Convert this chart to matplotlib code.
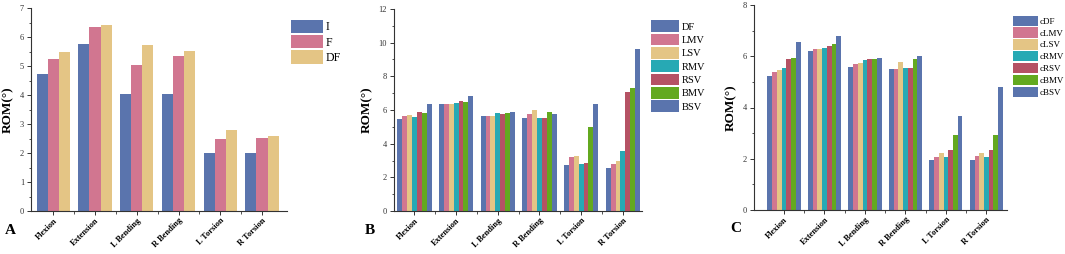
import numpy as np
import matplotlib
matplotlib.use("Agg")
import matplotlib.pyplot as plt
from matplotlib.ticker import MultipleLocator, FixedLocator

plt.rcParams["font.family"] = ["Liberation Serif", "DejaVu Serif"]

# ------------------------------
# data
# ------------------------------
motions = ["Flexion", "Extension", "L Bending", "R Bending", "L Torsion", "R Torsion"]

# panel A
a_names = ["I", "F", "DF"]
a_I = [4.73, 5.75, 4.05, 4.05, 2.00, 2.00]
a_F = [5.25, 6.33, 5.02, 5.35, 2.47, 2.52]
a_DF = [5.47, 6.40, 5.73, 5.52, 2.80, 2.57]

# panel B
b_names = ["DF", "LMV", "LSV", "RMV", "RSV", "BMV", "BSV"]
b_DF = [5.44, 6.35, 5.65, 5.50, 2.75, 2.57]
b_LMV = [5.65, 6.35, 5.65, 5.79, 3.18, 2.77]
b_LSV = [5.73, 6.37, 5.63, 5.99, 3.26, 2.95]
b_RMV = [5.61, 6.41, 5.85, 5.54, 2.81, 3.58]
b_RSV = [5.91, 6.56, 5.75, 5.50, 2.87, 7.04]
b_BMV = [5.83, 6.47, 5.81, 5.89, 4.98, 7.33]
b_BSV = [6.37, 6.82, 5.89, 5.77, 6.33, 9.63]

# panel C
c_names = ["cDF", "cLMV", "cLSV", "cRMV", "cRSV", "cBMV", "cBSV"]
c_DF = [5.21, 6.20, 5.59, 5.49, 1.94, 1.95]
c_LMV = [5.40, 6.28, 5.71, 5.50, 2.08, 2.09]
c_LSV = [5.46, 6.29, 5.72, 5.76, 2.22, 2.22]
c_RMV = [5.54, 6.31, 5.85, 5.53, 2.05, 2.05]
c_RSV = [5.88, 6.40, 5.90, 5.55, 2.35, 2.35]
c_BMV = [5.92, 6.46, 5.89, 5.89, 2.93, 2.94]
c_BSV = [6.57, 6.80, 5.93, 6.00, 3.67, 4.79]

# ------------------------------
# style
# ------------------------------
blue = "#5a74ad"
pink = "#d17690"
tan = "#e4c585"
teal = "#27a9b4"
red = "#b55264"
green = "#63a91f"
colors7 = [blue, pink, tan, teal, red, green, blue]
colors3 = [blue, pink, tan]

fig = plt.figure(figsize=(10.65, 2.54), dpi=100)


def panel(rect, series, names, colors, ymax, ystep, xlim, group_w,
          leg_anchor, leg_size, leg_hl, leg_ls, label, label_xy):
    ax = fig.add_axes(rect)
    x = np.arange(len(motions))
    n = len(series)
    w = group_w / n
    for i, (vals, name, col) in enumerate(zip(series, names, colors)):
        ax.bar(x - group_w / 2 + w * (i + 0.5), vals, width=w, color=col,
               label=name, edgecolor="none")
    ax.set_xlim(*xlim)
    ax.set_ylim(0, ymax)
    ax.yaxis.set_major_locator(MultipleLocator(ystep))
    ax.yaxis.set_minor_locator(MultipleLocator(ystep / 2))
    ax.xaxis.set_major_locator(FixedLocator(x))
    ax.xaxis.set_minor_locator(FixedLocator(x[:-1] + 0.5))
    ax.set_xticklabels(motions, rotation=45, ha="right", rotation_mode="anchor",
                       fontsize=6, fontweight="bold")
    for s in ["top", "right"]:
        ax.spines[s].set_visible(False)
    for s in ["left", "bottom"]:
        ax.spines[s].set_color("#333333")
        ax.spines[s].set_linewidth(0.8)
    ax.tick_params(which="major", direction="out", length=3, width=0.7,
                   colors="#333333", labelsize=6, pad=2)
    ax.tick_params(which="minor", direction="out", length=1.8, width=0.6,
                   colors="#333333")
    ax.tick_params(axis="x", labelcolor="black", pad=1)
    ax.set_ylabel("ROM(°)", fontsize=9.5, fontweight="bold", labelpad=4)
    ax.legend(loc="upper left", bbox_to_anchor=leg_anchor,
              bbox_transform=fig.transFigure, frameon=False,
              fontsize=leg_size, handlelength=leg_hl, handleheight=1.35,
              handletextpad=0.25, labelspacing=leg_ls, borderpad=0)
    fig.text(label_xy[0], label_xy[1], label, fontsize=11, fontweight="bold",
             ha="left", va="center")
    return ax


panel([31 / 1065, 1 - 211 / 254, 256 / 1065, 203 / 254],
      [a_I, a_F, a_DF], a_names, colors3, 7, 1, (-0.535, 5.6), 0.8,
      (285 / 1065, 1 - 14 / 254), 8.5, 2.7, 0.14, "A", (5 / 1065, 1 - 231 / 254))

panel([394 / 1065, 1 - 211 / 254, 248 / 1065, 202 / 254],
      [b_DF, b_LMV, b_LSV, b_RMV, b_RSV, b_BMV, b_BSV], b_names, colors7,
      12, 2, (-0.49, 5.46), 0.82,
      (646 / 1065, 1 - 15 / 254), 7.5, 2.7, 0.16, "B", (365 / 1065, 1 - 230 / 254))

panel([754 / 1065, 1 - 210 / 254, 253 / 1065, 205 / 254],
      [c_DF, c_LMV, c_LSV, c_RMV, c_RSV, c_BMV, c_BSV], c_names, colors7,
      8, 2, (-0.74, 5.51), 0.82,
      (1008 / 1065, 1 - 11 / 254), 6.5, 2.8, 0.2, "C", (730 / 1065, 1 - 229 / 254))

fig.savefig("out.png", dpi=100)
